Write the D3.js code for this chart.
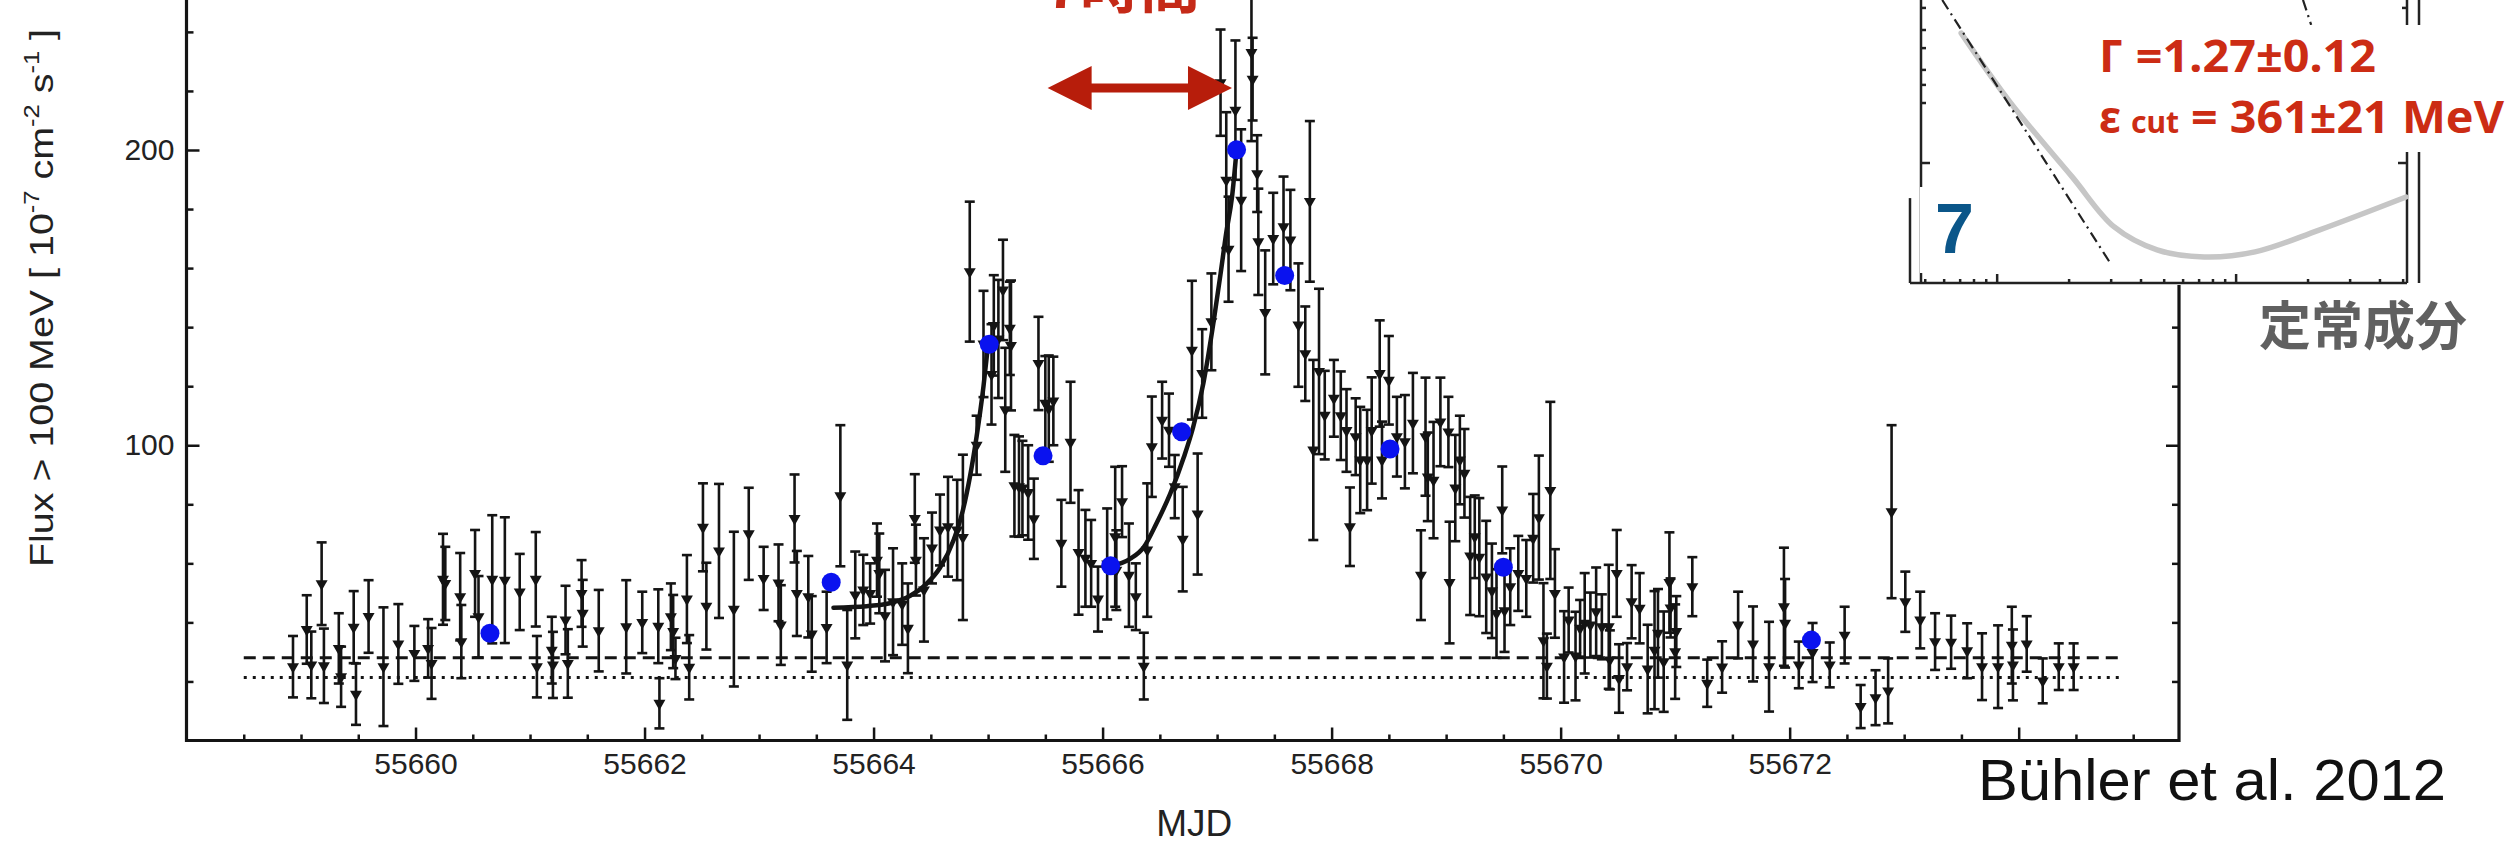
<!DOCTYPE html>
<html>
<head>
<meta charset="utf-8">
<title>Flux > 100 MeV</title>
<script src="https://cdn.jsdelivr.net/npm/d3@7"></script>
<style>
	body { margin: 0; background: #fff; }
	.box svg { display: block; }
</style>
</head>
<body>
<div class="box"></div>
<script>
// courbe de lumiere : date, flux, erreur
const mjd = [
	55658.93, 55659.05, 55659.09, 55659.18, 55659.20, 55659.33, 55659.35, 55659.46, 55659.48, 55659.59,
	55659.72, 55659.85, 55659.99, 55660.11, 55660.14, 55660.24, 55660.26, 55660.39, 55660.40, 55660.52,
	55660.55, 55660.67, 55660.78, 55660.91, 55661.05, 55661.06, 55661.19, 55661.20, 55661.31, 55661.33,
	55661.45, 55661.46, 55661.60, 55661.84, 55661.98, 55662.12, 55662.13, 55662.23, 55662.25, 55662.27,
	55662.37, 55662.39, 55662.51, 55662.54, 55662.65, 55662.78, 55662.91, 55663.04, 55663.17, 55663.19,
	55663.31, 55663.33, 55663.43, 55663.46, 55663.59, 55663.71, 55663.77, 55663.84, 55663.91, 55663.97,
	55664.03, 55664.05, 55664.10, 55664.17, 55664.25, 55664.30, 55664.36, 55664.37, 55664.44, 55664.51,
	55664.58, 55664.65, 55664.73, 55664.78, 55664.84, 55664.90, 55664.96, 55665.03, 55665.05, 55665.09,
	55665.13, 55665.15, 55665.19, 55665.20, 55665.23, 55665.27, 55665.30, 55665.35, 55665.40, 55665.44,
	55665.50, 55665.53, 55665.57, 55665.64, 55665.72, 55665.79, 55665.85, 55665.90, 55665.96, 55666.04,
	55666.11, 55666.12, 55666.17, 55666.23, 55666.29, 55666.36, 55666.39, 55666.43, 55666.52, 55666.58,
	55666.63, 55666.70, 55666.78, 55666.83, 55666.87, 55666.95, 55667.03, 55667.08, 55667.10, 55667.16,
	55667.21, 55667.30, 55667.31, 55667.35, 55667.36, 55667.42, 55667.49, 55667.58, 55667.64, 55667.71,
	55667.77, 55667.81, 55667.84, 55667.89, 55667.94, 55668.02, 55668.08, 55668.13, 55668.16, 55668.21,
	55668.25, 55668.31, 55668.35, 55668.42, 55668.44, 55668.50, 55668.57, 55668.64, 55668.71, 55668.78,
	55668.82, 55668.84, 55668.89, 55668.95, 55669.02, 55669.03, 55669.08, 55669.12, 55669.16, 55669.21,
	55669.25, 55669.29, 55669.35, 55669.40, 55669.44, 55669.49, 55669.51, 55669.56, 55669.63, 55669.70,
	55669.76, 55669.81, 55669.85, 55669.88, 55669.91, 55669.95, 55670.03, 55670.07, 55670.13, 55670.17,
	55670.21, 55670.26, 55670.31, 55670.36, 55670.42, 55670.43, 55670.49, 55670.51, 55670.58, 55670.62,
	55670.69, 55670.76, 55670.82, 55670.85, 55670.90, 55670.95, 55670.96, 55671.00, 55671.01, 55671.15,
	55671.28, 55671.41, 55671.55, 55671.68, 55671.82, 55671.95, 55671.96, 55672.08, 55672.20, 55672.35,
	55672.48, 55672.62, 55672.75, 55672.86, 55672.89, 55673.01, 55673.14, 55673.27, 55673.41, 55673.55,
	55673.68, 55673.82, 55673.94, 55673.95, 55674.07, 55674.21, 55674.35, 55674.48
]
const flux = [
	25.0, 37.6, 25.6, 53.1, 25.3, 31.2, 21.6, 38.4, 15.7, 42.0,
	25.0, 32.7, 29.5, 31.2, 26.1, 54.6, 53.2, 48.7, 33.5, 56.6,
	41.9, 54.6, 54.3, 50.3, 54.6, 25.0, 30.6, 25.6, 40.8, 26.1,
	49.8, 43.1, 37.2, 38.5, 40.0, 38.7, 12.6, 41.9, 36.9, 27.8,
	47.9, 24.8, 72.2, 45.5, 64.2, 44.5, 70.0, 54.9, 53.4, 39.1,
	75.2, 49.8, 48.7, 36.1, 38.3, 82.9, 25.6, 49.3, 51.0, 49.8,
	61.1, 56.6, 42.3, 47.0, 46.2, 38.0, 75.2, 61.1, 51.0, 65.2,
	71.3, 72.4, 71.3, 68.8, 158.8, 100.0, 134.3, 124.0, 140.6, 136.0,
	152.6, 112.0, 139.6, 133.8, 86.3, 86.0, 85.5, 84.0, 75.1, 127.7,
	114.2, 112.4, 115.0, 66.8, 101.0, 63.7, 61.7, 60.0, 47.9, 59.8,
	69.0, 57.7, 80.9, 56.0, 48.7, 25.2, 64.5, 99.5, 108.5, 105.1,
	86.0, 68.2, 132.2, 76.7, 124.3, 141.8, 222.8, 189.8, 166.4, 213.5,
	183.0, 233.0, 224.0, 192.0, 168.9, 145.0, 170.0, 174.0, 169.5, 140.7,
	131.0, 182.6, 98.4, 125.0, 110.2, 115.9, 110.0, 105.0, 72.4, 102.9,
	95.0, 95.0, 105.0, 124.3, 95.0, 122.0, 102.9, 101.2, 107.5, 56.0,
	102.9, 89.3, 88.2, 107.9, 104.5, 53.5, 85.5, 95.0, 90.5, 62.5,
	69.0, 62.1, 55.4, 50.7, 43.0, 78.1, 44.0, 52.1, 56.6, 54.9,
	68.5, 75.5, 33.8, 25.2, 84.7, 49.8, 28.3, 40.8, 28.6, 38.0,
	39.7, 39.1, 43.6, 38.5, 38.5, 27.3, 56.6, 21.0, 25.0, 47.0,
	44.8, 24.2, 30.6, 36.3, 26.7, 53.5, 44.9, 30.1, 36.9, 52.1,
	19.4, 24.9, 39.1, 32.7, 25.0, 45.3, 39.7, 25.6, 29.8, 25.6,
	35.7, 11.5, 14.5, 16.8, 77.5, 47.0, 40.8, 33.5, 33.3, 30.4,
	25.0, 25.0, 32.3, 25.6, 32.7, 20.2, 25.0, 25.0
]
const fluxErr = [
	10.4, 11.6, 11.3, 14.0, 12.6, 11.9, 10.2, 12.2, 10.4, 12.3,
	20.1, 13.5, 9.3, 9.9, 12.0, 15.4, 12.4, 14.8, 12.4, 14.7,
	13.8, 21.7, 21.3, 12.9, 16.0, 10.4, 11.3, 11.2, 11.6, 11.6,
	11.3, 11.3, 13.8, 15.8, 10.4, 12.5, 8.5, 11.3, 12.4, 7.0,
	14.9, 10.9, 14.9, 14.7, 22.7, 26.2, 15.6, 10.7, 13.0, 13.5,
	14.9, 14.4, 13.8, 12.8, 12.1, 23.9, 18.6, 14.7, 11.9, 10.2,
	12.4, 13.5, 15.5, 18.1, 13.8, 15.2, 15.0, 12.0, 17.5, 12.0,
	12.0, 16.9, 17.0, 28.0, 23.7, 10.0, 18.0, 17.0, 17.0, 20.0,
	17.0, 21.0, 15.8, 22.0, 17.2, 17.0, 16.0, 16.0, 13.6, 15.8,
	16.0, 18.0, 15.0, 14.7, 20.5, 21.1, 16.4, 14.7, 11.0, 18.8,
	23.7, 13.5, 12.0, 17.5, 11.3, 11.3, 22.6, 17.0, 13.0, 12.4,
	10.7, 17.7, 23.5, 20.5, 15.0, 16.4, 18.0, 23.0, 17.8, 23.6,
	24.0, 30.0, 14.0, 13.0, 18.0, 21.0, 15.5, 17.0, 17.0, 20.9,
	16.0, 27.2, 30.5, 28.0, 15.0, 13.0, 15.0, 14.0, 13.3, 13.0,
	18.0, 17.0, 18.0, 18.0, 13.0, 15.0, 13.5, 15.8, 17.0, 15.2,
	20.0, 15.0, 19.7, 15.0, 11.9, 20.6, 18.0, 15.0, 15.0, 20.0,
	14.0, 20.0, 19.0, 16.0, 15.0, 14.7, 14.0, 13.0, 12.7, 13.0,
	15.0, 21.0, 19.5, 11.0, 30.0, 15.0, 15.5, 11.0, 15.0, 9.6,
	17.0, 11.0, 15.0, 11.0, 21.0, 10.0, 14.7, 11.6, 8.0, 12.4,
	11.9, 15.0, 20.0, 15.0, 17.0, 17.0, 10.0, 16.0, 12.0, 10.0,
	8.0, 8.7, 11.3, 12.7, 15.2, 20.0, 15.0, 7.9, 10.0, 7.6,
	9.6, 7.3, 9.3, 11.0, 29.3, 10.2, 9.6, 9.6, 9.0, 9.3,
	11.3, 14.0, 13.0, 12.0, 9.4, 7.6, 7.9, 7.9
]

// points bleus
const blueMjd = [55660.65, 55663.63, 55665.01, 55665.48, 55666.07, 55666.69, 55667.17, 55667.59, 55668.51, 55669.50, 55672.19]
const blueFlux = [36.3, 53.6, 134.2, 96.4, 59.2, 104.6, 200.1, 157.5, 98.7, 58.7, 34.0]

// montees exponentielles
const rise1Mjd = [55663.65, 55663.94, 55664.14, 55664.32, 55664.46, 55664.58, 55664.70, 55664.78, 55664.84, 55664.90, 55664.96, 55665.00]
const rise1Flux = [45.0, 45.5, 46.5, 49.0, 53.0, 58.5, 68.0, 78.0, 89.0, 103.0, 120.0, 134.0]
const rise2Mjd = [55666.07, 55666.24, 55666.36, 55666.47, 55666.59, 55666.71, 55666.79, 55666.88, 55666.97, 55667.03, 55667.08, 55667.13, 55667.17]
const rise2Flux = [59.0, 61.5, 65.5, 73.5, 83.5, 96.0, 106.0, 121.0, 142.0, 158.0, 172.0, 184.0, 200.0]

// niveaux horizontaux
const levelMjd = [55658.5, 55674.9]
const dashedLevel = 28.0
const dottedLevel = 21.3

// graduations
const xTickLabels = [55660, 55662, 55664, 55666, 55668, 55670, 55672]
const xMajorTicks = [55660, 55662, 55664, 55666, 55668, 55670, 55672, 55674]
const yTickLabels = [100, 200]

// fleche "7 heures"
const arrowMjd = [55665.52, 55667.13]
const arrowFlux = 221

// encart : spectre (energie en MeV, niveau en % de la hauteur)
const sedEnergy = [70.7, 113, 206, 309, 467, 735, 1200, 2223, 5140]
const sedLevel = [88.3, 64.0, 37.5, 19.8, 11.7, 9.2, 11.0, 18.7, 30.4]
const plEnergy = [58.9, 297]
const plLevel = [100, 7.1]
const pl2Energy = [1905, 2061]
const pl2Level = [100, 91.2]
const insetMajorE = [100, 1000]
const insetMinorE = [50, 60, 70, 80, 90, 200, 300, 400, 500, 600, 700, 800, 900, 2000, 3000, 4000, 5000]
const insetYTicks = [97.2, 89.4, 83.0, 75.3, 70.0, 63.6]
const insetYMajor = [42.4]

const W = 2518
const H = 843
const ink = '#141414'
const sans = "'Liberation Sans', Arial, sans-serif"
const cjk = "'Noto Sans CJK JP', 'Noto Sans', sans-serif"

const svg = d3.select('.box')
			  .append('svg')
			  .attr('width', W)
			  .attr('height', H)
			  .style('background-color', '#fff')
			  .attr('font-family', sans)

const x = d3.scaleLinear()
			.domain([55658, 55675.4])
			.range([186.5, 2179])
const y = d3.scaleLinear()
			.domain([0, 250.8])
			.range([740.5, 0])

function styleAxis(g) {
	g.select('.domain').remove()
	g.selectAll('.tick line').attr('stroke', ink).attr('stroke-width', 2.5)
	g.selectAll('.tick text').attr('fill', '#222')
	g.attr('font-size', 30).attr('font-family', sans)
}

// graduations x (vers l'interieur)
const minorX = d3.range(55658.5, 55675.2, 0.5).filter(d => !xMajorTicks.includes(d))
svg.append('g')
	.attr('transform', `translate(0, ${y(0)})`)
	.call(d3.axisBottom(x).tickValues(minorX).tickSize(-6).tickSizeOuter(0).tickFormat(''))
	.call(styleAxis)
svg.append('g')
	.attr('transform', `translate(0, ${y(0)})`)
	.call(d3.axisBottom(x).tickValues(xMajorTicks).tickSize(-13).tickSizeOuter(0).tickPadding(12)
		.tickFormat(d => xTickLabels.includes(d) ? d : ''))
	.call(styleAxis)

// graduations y, gauche et droite
const minorY = d3.range(20, 250, 20).filter(d => !yTickLabels.includes(d))
svg.append('g')
	.attr('transform', `translate(${x(55658)}, 0)`)
	.call(d3.axisLeft(y).tickValues(minorY).tickSize(-7).tickSizeOuter(0).tickFormat(''))
	.call(styleAxis)
svg.append('g')
	.attr('transform', `translate(${x(55658)}, 0)`)
	.call(d3.axisLeft(y).tickValues(yTickLabels).tickSize(-13).tickSizeOuter(0).tickPadding(12).tickFormat(d => d))
	.call(styleAxis)
svg.append('g')
	.attr('transform', `translate(${x(55675.4)}, 0)`)
	.call(d3.axisRight(y).tickValues(minorY).tickSize(-7).tickSizeOuter(0).tickFormat(''))
	.call(styleAxis)
svg.append('g')
	.attr('transform', `translate(${x(55675.4)}, 0)`)
	.call(d3.axisRight(y).tickValues(yTickLabels).tickSize(-13).tickSizeOuter(0).tickFormat(''))
	.call(styleAxis)

// cadre
svg.append('path')
	.attr('d', `M${x(55658)},0 V${y(0)} H${x(55675.4)} V0`)
	.attr('fill', 'none')
	.attr('stroke', ink)
	.attr('stroke-width', 3.2)

// niveaux tirets et pointilles
svg.append('line')
	.attr('x1', x(levelMjd[0])).attr('x2', x(levelMjd[1]))
	.attr('y1', y(dashedLevel)).attr('y2', y(dashedLevel))
	.attr('stroke', ink).attr('stroke-width', 3)
	.attr('stroke-dasharray', '12 7')
svg.append('line')
	.attr('x1', x(levelMjd[0])).attr('x2', x(levelMjd[1]))
	.attr('y1', y(dottedLevel)).attr('y2', y(dottedLevel))
	.attr('stroke', ink).attr('stroke-width', 3)
	.attr('stroke-dasharray', '3 6')

// barres d'erreur
const pts = mjd.map((t, i) => ({t: t, f: flux[i], e: fluxErr[i]}))
const bars = svg.append('g').attr('stroke', ink).attr('stroke-width', 2.6)
bars.selectAll('.bar')
	.data(pts)
	.enter()
	.append('line')
	.attr('x1', d => x(d.t)).attr('x2', d => x(d.t))
	.attr('y1', d => y(d.f - d.e)).attr('y2', d => y(d.f + d.e))
bars.selectAll('.capTop')
	.data(pts)
	.enter()
	.append('line')
	.attr('x1', d => x(d.t) - 5).attr('x2', d => x(d.t) + 5)
	.attr('y1', d => y(d.f + d.e)).attr('y2', d => y(d.f + d.e))
bars.selectAll('.capBottom')
	.data(pts)
	.enter()
	.append('line')
	.attr('x1', d => x(d.t) - 5).attr('x2', d => x(d.t) + 5)
	.attr('y1', d => y(d.f - d.e)).attr('y2', d => y(d.f - d.e))

// triangles
const tri = d3.symbol().type(d3.symbolTriangle).size(62)
svg.append('g')
	.selectAll('path')
	.data(pts)
	.enter()
	.append('path')
	.attr('d', tri)
	.attr('transform', d => `translate(${x(d.t)}, ${y(d.f)}) rotate(180)`)
	.attr('fill', ink)

// courbes d'ajustement
const line = d3.line()
			   .x(d => x(d[0]))
			   .y(d => y(d[1]))
			   .curve(d3.curveMonotoneX)
;[d3.zip(rise1Mjd, rise1Flux), d3.zip(rise2Mjd, rise2Flux)].forEach(c => {
	svg.append('path')
		.datum(c)
		.attr('d', line)
		.attr('fill', 'none')
		.attr('stroke', ink)
		.attr('stroke-width', 4.5)
		.attr('stroke-linecap', 'round')
})

// points bleus
svg.append('g')
	.selectAll('circle')
	.data(d3.zip(blueMjd, blueFlux))
	.enter()
	.append('circle')
	.attr('cx', d => x(d[0]))
	.attr('cy', d => y(d[1]))
	.attr('r', 9.5)
	.attr('fill', '#0a12ef')

// fleche rouge
const ax0 = x(arrowMjd[0])
const ax1 = x(arrowMjd[1])
const ay = y(arrowFlux)
const hl = 44, hw = 22, sw = 4.5
svg.append('path')
	.attr('d', `M${ax0},${ay} L${ax0 + hl},${ay - hw} V${ay - sw} H${ax1 - hl} V${ay - hw} L${ax1},${ay} L${ax1 - hl},${ay + hw} V${ay + sw} H${ax0 + hl} V${ay + hw} Z`)
	.attr('fill', '#b71d0b')
svg.append('text')
	.attr('x', ax0 - 3)
	.attr('y', 8)
	.attr('font-family', cjk)
	.attr('font-weight', 700)
	.attr('font-size', 60)
	.attr('fill', '#c52a18')
	.text('7時間')

// titres des axes
svg.append('text')
	.attr('x', x(55666.8))
	.attr('y', 836)
	.attr('text-anchor', 'middle')
	.attr('font-size', 37)
	.attr('fill', '#222')
	.text('MJD')

const yTitle = svg.append('text')
	.attr('transform', 'translate(53, 298) rotate(-90)')
	.attr('text-anchor', 'middle')
	.attr('font-size', 34)
	.attr('fill', '#222')
	.attr('textLength', 538)
	.attr('lengthAdjust', 'spacingAndGlyphs')
yTitle.append('tspan').text('Flux > 100 MeV [ 10')
yTitle.append('tspan').attr('dy', -14).attr('font-size', 22).text('-7')
yTitle.append('tspan').attr('dy', 14).text(' cm')
yTitle.append('tspan').attr('dy', -14).attr('font-size', 22).text('-2')
yTitle.append('tspan').attr('dy', 14).text(' s')
yTitle.append('tspan').attr('dy', -14).attr('font-size', 22).text('-1')
yTitle.append('tspan').attr('dy', 14).text(' ]')

// encart spectre
const ix = d3.scaleLog().domain([48, 5190]).range([1921, 2407])
const iy = d3.scaleLinear().domain([0, 100]).range([283, 0])
const inset = svg.append('g')
inset.append('rect')
	.attr('x', 1900).attr('y', 0)
	.attr('width', 530).attr('height', iy(0) + 2)
	.attr('fill', '#fff')

const frame = inset.append('g').attr('stroke', '#222').attr('stroke-width', 2.5).attr('fill', 'none')
frame.append('line').attr('x1', ix(48)).attr('x2', ix(48)).attr('y1', 0).attr('y2', iy(0))
frame.append('line').attr('x1', ix(48) - 11).attr('x2', ix(48) - 11).attr('y1', iy(30)).attr('y2', iy(0))
frame.append('line').attr('x1', ix(48) - 11).attr('x2', ix(5190)).attr('y1', iy(0)).attr('y2', iy(0))
frame.append('line').attr('x1', ix(5190)).attr('x2', ix(5190)).attr('y1', 0).attr('y2', iy(0))
frame.append('line').attr('x1', ix(5190) + 12).attr('x2', ix(5190) + 12).attr('y1', 0).attr('y2', iy(0))

// graduations log de l'encart
frame.selectAll('.imin')
	.data(insetMinorE)
	.enter()
	.append('line')
	.attr('x1', d => ix(d)).attr('x2', d => ix(d))
	.attr('y1', iy(0)).attr('y2', iy(0) - 4)
frame.selectAll('.imaj')
	.data(insetMajorE)
	.enter()
	.append('line')
	.attr('x1', d => ix(d)).attr('x2', d => ix(d))
	.attr('y1', iy(0)).attr('y2', iy(0) - 9)
frame.selectAll('.iyl')
	.data(insetYTicks.concat(insetYMajor))
	.enter()
	.append('line')
	.attr('x1', ix(48)).attr('x2', d => ix(48) + (insetYMajor.includes(d) ? 9 : 5))
	.attr('y1', d => iy(d)).attr('y2', d => iy(d))
frame.selectAll('.iyr')
	.data(insetYTicks.concat(insetYMajor))
	.enter()
	.append('line')
	.attr('x1', ix(5190)).attr('x2', d => ix(5190) - (insetYMajor.includes(d) ? 9 : 5))
	.attr('y1', d => iy(d)).attr('y2', d => iy(d))

const iline = d3.line()
				.x(d => ix(d[0]))
				.y(d => iy(d[1]))
inset.append('path')
	.datum(d3.zip(sedEnergy, sedLevel))
	.attr('d', iline.curve(d3.curveCatmullRom))
	.attr('fill', 'none')
	.attr('stroke', '#c6c6c6')
	.attr('stroke-width', 5.5)
	.attr('stroke-linecap', 'round')
;[d3.zip(plEnergy, plLevel), d3.zip(pl2Energy, pl2Level)].forEach(c => {
	inset.append('path')
		.datum(c)
		.attr('d', d3.line().x(d => ix(d[0])).y(d => iy(d[1])))
		.attr('fill', 'none')
		.attr('stroke', '#222')
		.attr('stroke-width', 2.2)
		.attr('stroke-dasharray', '11 5 2 5')
})

// etiquette "7"
inset.append('rect')
	.attr('x', ix(48) - 1).attr('y', 187)
	.attr('width', 58).attr('height', 86)
	.attr('fill', '#fff')
inset.append('text')
	.attr('x', 1935)
	.attr('y', 253)
	.attr('font-size', 70)
	.attr('font-weight', 700)
	.attr('fill', '#0b5689')
	.text('7')

// parametres du spectre
inset.append('rect')
	.attr('x', 2093).attr('y', 25)
	.attr('width', 425).attr('height', 127)
	.attr('fill', '#fff')
const red = '#cc2c14'
const redFont = "'Noto Sans', 'Liberation Sans', sans-serif"
inset.append('text')
	.attr('x', 2099).attr('y', 72)
	.attr('font-family', redFont).attr('font-weight', 700)
	.attr('font-size', 44).attr('fill', red)
	.attr('textLength', 277).attr('lengthAdjust', 'spacingAndGlyphs')
	.text('Γ =1.27±0.12')
inset.append('text')
	.attr('x', 2099).attr('y', 133)
	.attr('font-family', redFont).attr('font-weight', 700)
	.attr('font-size', 44).attr('fill', red)
	.text('ε')
inset.append('text')
	.attr('x', 2131).attr('y', 133)
	.attr('font-family', redFont).attr('font-weight', 700)
	.attr('font-size', 30).attr('fill', red)
	.text('cut')
inset.append('text')
	.attr('x', 2191).attr('y', 133)
	.attr('font-family', redFont).attr('font-weight', 700)
	.attr('font-size', 44).attr('fill', red)
	.attr('textLength', 313).attr('lengthAdjust', 'spacingAndGlyphs')
	.text('= 361±21 MeV')

svg.append('text')
	.attr('x', 2259).attr('y', 345)
	.attr('font-family', cjk).attr('font-weight', 700)
	.attr('font-size', 52).attr('fill', '#606060')
	.text('定常成分')

// reference
svg.append('text')
	.attr('x', 1978).attr('y', 800)
	.attr('font-size', 58).attr('fill', '#111')
	.attr('textLength', 468).attr('lengthAdjust', 'spacingAndGlyphs')
	.text('Bühler et al. 2012')
</script>
</body>
</html>
